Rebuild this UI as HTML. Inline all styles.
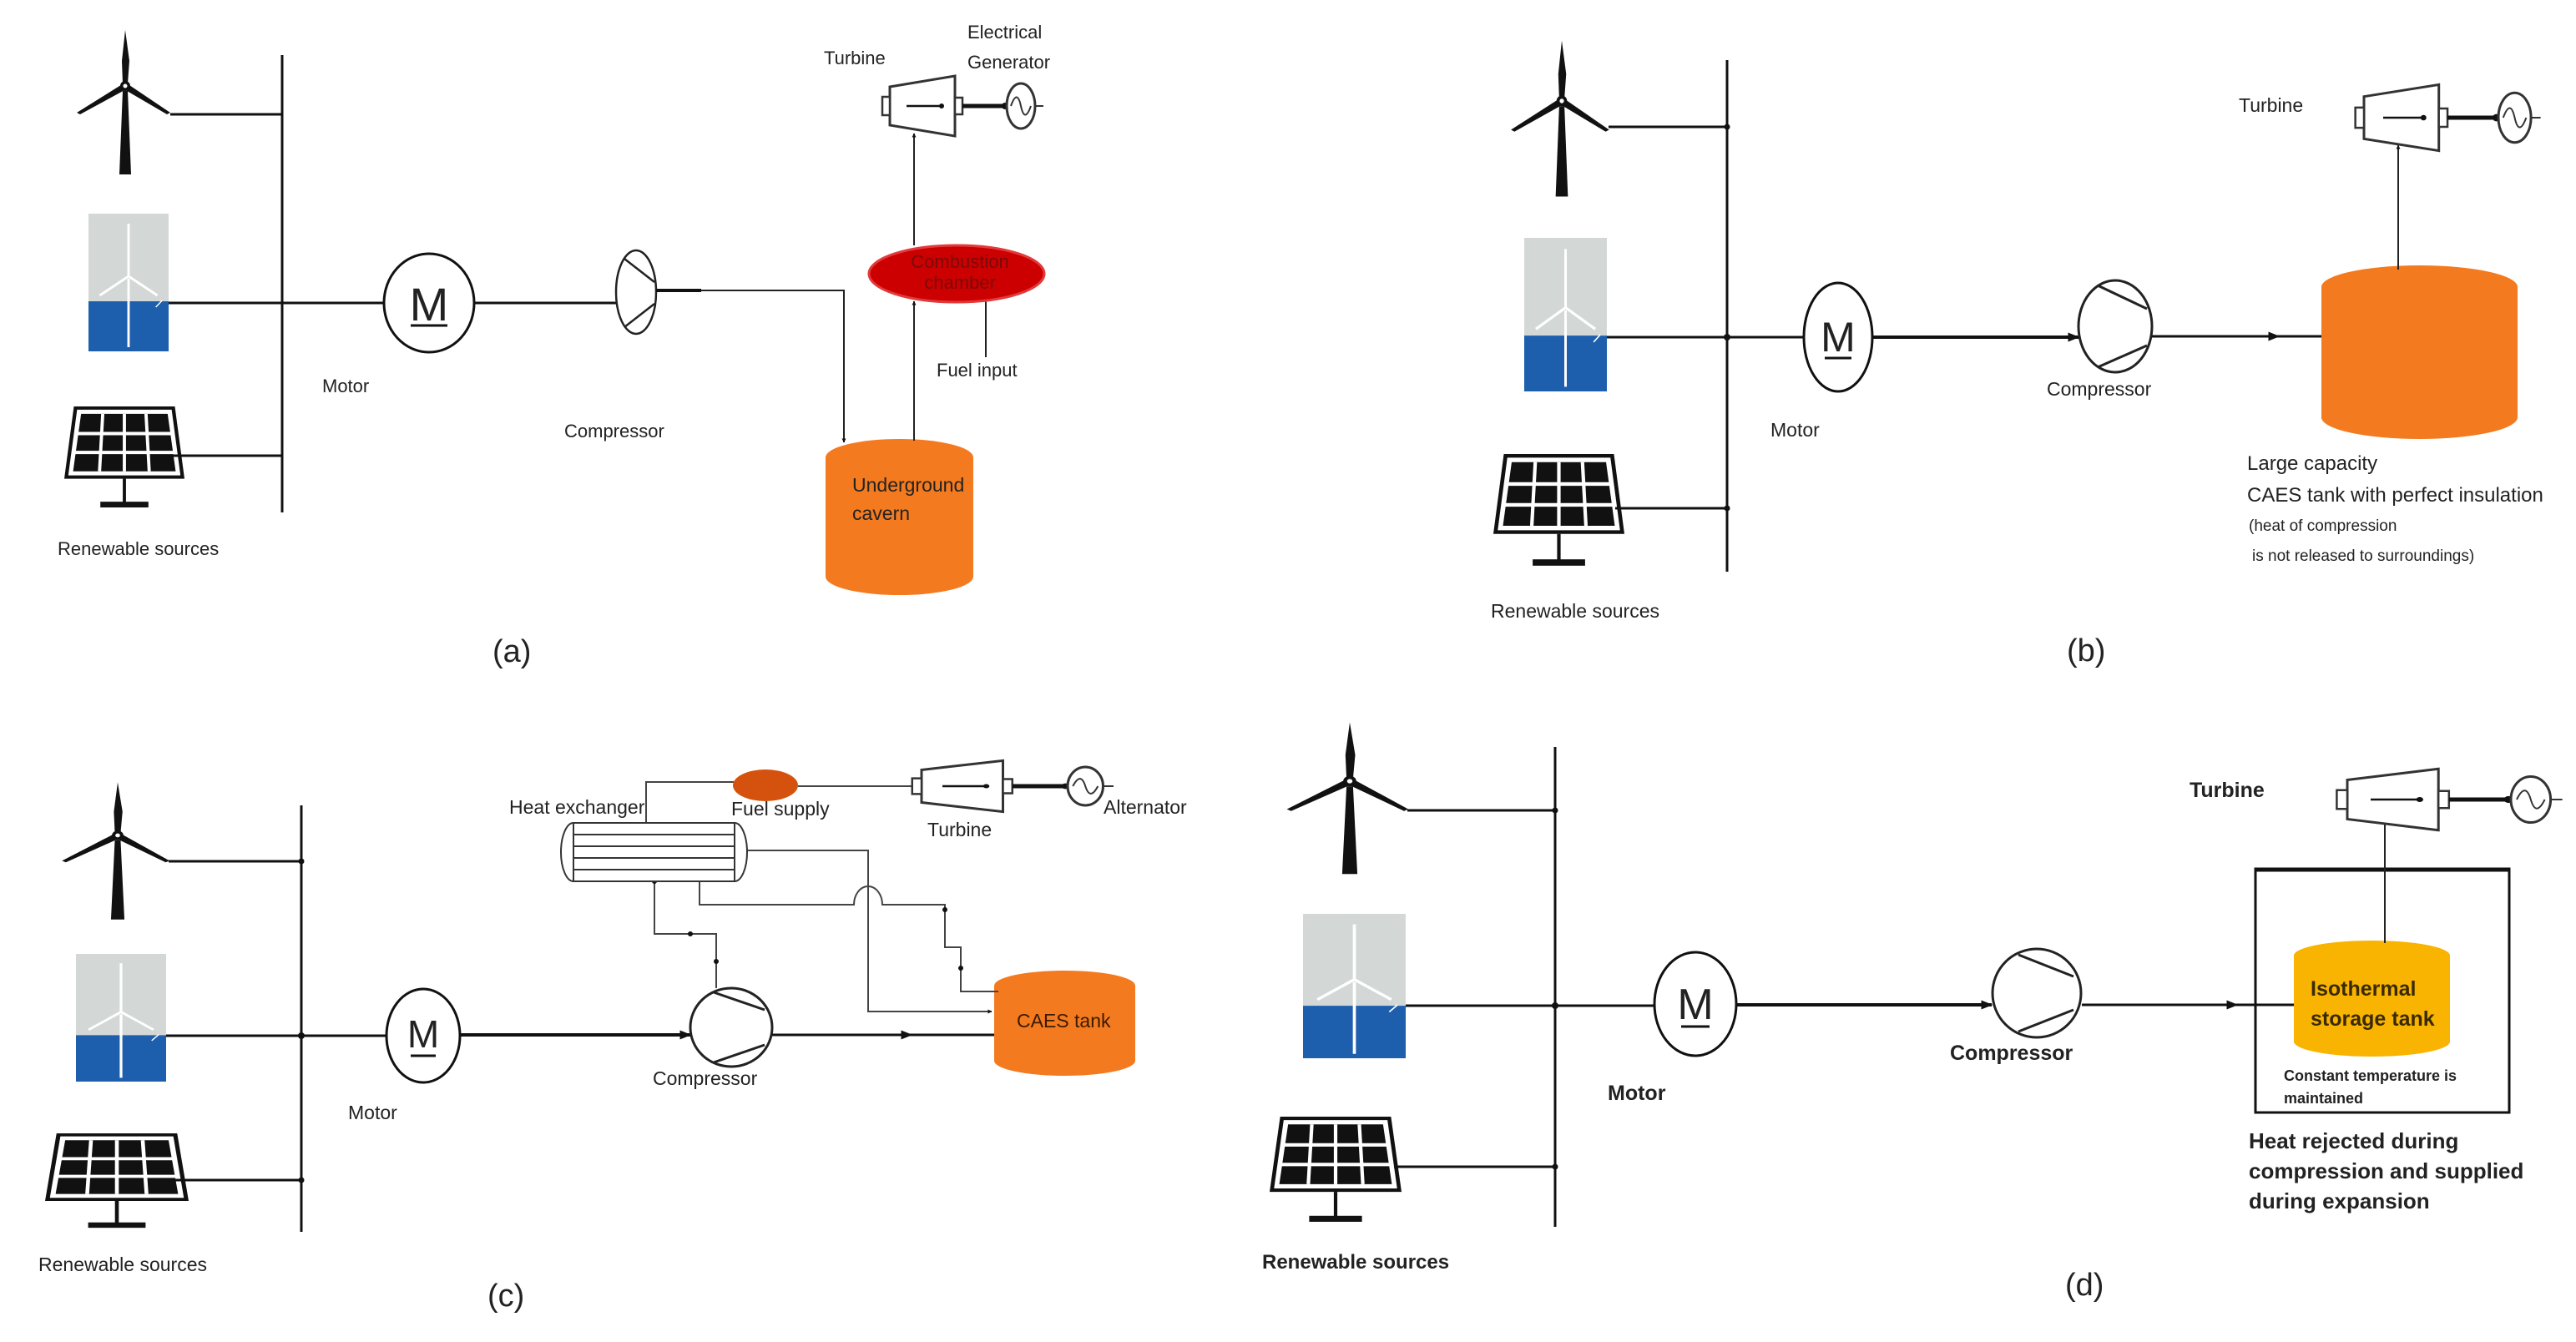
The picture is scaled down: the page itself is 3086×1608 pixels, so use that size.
<!DOCTYPE html>
<html><head><meta charset="utf-8"><style>
html,body{margin:0;padding:0;background:#fff}
svg{display:block}
text{font-family:"Liberation Sans Narrow","Liberation Sans",sans-serif;fill:#222}
</style></head><body>
<svg width="3086" height="1608" viewBox="0 0 3086 1608" xmlns="http://www.w3.org/2000/svg">
<defs>
<marker id="ar" viewBox="0 0 10 10" refX="9" refY="5" markerWidth="5" markerHeight="5" orient="auto" markerUnits="userSpaceOnUse"><path d="M0,0L10,5L0,10z" fill="#111"/></marker>
<marker id="ar2" viewBox="0 0 10 10" refX="9" refY="5" markerWidth="14" markerHeight="14" orient="auto" markerUnits="userSpaceOnUse"><path d="M0,1L10,5L0,9z" fill="#111"/></marker>
<symbol id="off" viewBox="0 0 100 165" preserveAspectRatio="none">
<rect x="0" y="0" width="100" height="105" fill="#d3d8d6"/>
<rect x="0" y="105" width="100" height="60" fill="#1d5fad"/>
<g stroke="#fff" stroke-width="3" fill="none"><line x1="50" y1="78" x2="50" y2="160"/><line x1="50" y1="75" x2="50" y2="12"/><line x1="50" y1="75" x2="14" y2="98"/><line x1="50" y1="75" x2="86" y2="98"/><line x1="92" y1="104" x2="84" y2="112" stroke-width="1.5"/></g>
</symbol>
<symbol id="sol" viewBox="0 0 150 125" preserveAspectRatio="none">
<polygon points="12,0 138,0 150,88 0,88" fill="#111"/>
<polygon points="16,4 134,4 145,84 5,84" fill="#fff"/>
<polygon points="21,9 129,9 139,79 11,79" fill="#111"/>
<g stroke="#fff" stroke-width="4"><line x1="14" y1="33" x2="136" y2="33"/><line x1="12" y1="56" x2="138" y2="56"/><line x1="48" y1="9" x2="44" y2="79"/><line x1="75" y1="9" x2="75" y2="79"/><line x1="102" y1="9" x2="106" y2="79"/></g>
<rect x="73" y="88" width="4" height="30" fill="#111"/><rect x="45" y="116" width="60" height="7" fill="#111"/>
</symbol>
<g id="wind">
<polygon points="-3,6 3,6 7,106 -7,106" fill="#111"/>
<polygon points="0,-67 5,-30 3,-3 -3,-3 -4,-30" fill="#111"/>
<polygon points="-2,-3 3,3 -54,34 -58,32" fill="#111"/>
<polygon points="2,-3 -3,3 50,34 54,32" fill="#111"/>
<circle r="6" fill="#111"/><circle r="2.5" fill="#fff"/>
</g>
<g id="turb">
<polygon points="0,-23 78,-36 78,36 0,23" fill="#fff" stroke="#333" stroke-width="3" vector-effect="non-scaling-stroke"/>
<rect x="-9" y="-11" width="9" height="22" fill="#fff" stroke="#333" stroke-width="2.5" vector-effect="non-scaling-stroke"/>
<rect x="78" y="-10" width="9" height="20" fill="#fff" stroke="#333" stroke-width="2.5" vector-effect="non-scaling-stroke"/>
<line x1="20" y1="0" x2="62" y2="0" stroke="#111" stroke-width="2.5" vector-effect="non-scaling-stroke"/>
<circle cx="62" cy="0" r="3" fill="#111"/>
<line x1="87" y1="0" x2="140" y2="0" stroke="#111" stroke-width="5" vector-effect="non-scaling-stroke"/>
<circle cx="138" cy="0" r="4" fill="#111"/>
<ellipse cx="157" cy="0" rx="17" ry="27" fill="#fff" stroke="#333" stroke-width="3" vector-effect="non-scaling-stroke"/>
<path d="M145,0 C150,-14 154,-14 157,0 C160,14 164,14 169,0" fill="none" stroke="#333" stroke-width="2" vector-effect="non-scaling-stroke"/>
<line x1="174" y1="0" x2="184" y2="0" stroke="#333" stroke-width="2" vector-effect="non-scaling-stroke"/>
</g>
</defs>

<!-- ===== Panel (a) ===== -->
<g>
<line x1="338" y1="66" x2="338" y2="614" stroke="#111" stroke-width="3"/>
<use href="#wind" transform="translate(150,103)"/>
<line x1="204" y1="137" x2="338" y2="137" stroke="#111" stroke-width="3"/>
<use href="#off" x="106" y="256" width="96" height="165"/>
<line x1="202" y1="363" x2="460" y2="363" stroke="#111" stroke-width="3"/>
<use href="#sol" x="77" y="487" width="144" height="123"/>
<line x1="205" y1="546" x2="338" y2="546" stroke="#111" stroke-width="3"/>
<ellipse cx="514" cy="363" rx="54" ry="59" fill="#fff" stroke="#111" stroke-width="3"/>
<text x="514" y="384" font-size="56" text-anchor="middle" style="font-family:'Liberation Sans',sans-serif">M</text>
<line x1="492" y1="390" x2="536" y2="390" stroke="#111" stroke-width="3"/>
<line x1="568" y1="363" x2="740" y2="363" stroke="#111" stroke-width="3"/>
<ellipse cx="762" cy="350" rx="24" ry="50" fill="#fff" stroke="#222" stroke-width="2.5"/>
<line x1="748" y1="310" x2="784" y2="338" stroke="#222" stroke-width="2.5"/>
<line x1="748" y1="392" x2="784" y2="364" stroke="#222" stroke-width="2.5"/>
<line x1="786" y1="348" x2="840" y2="348" stroke="#111" stroke-width="4"/>
<polyline points="840,348 1011,348 1011,530" fill="none" stroke="#222" stroke-width="2" marker-end="url(#ar)"/>
<g fill="#f47a1f"><rect x="989" y="548" width="177" height="143"/><ellipse cx="1077.5" cy="548" rx="88.5" ry="22"/><ellipse cx="1077.5" cy="691" rx="88.5" ry="22"/></g>
<text x="1021" y="589" font-size="23">Underground</text>
<text x="1021" y="623" font-size="23">cavern</text>
<line x1="1095" y1="528" x2="1095" y2="361" stroke="#222" stroke-width="2" marker-end="url(#ar)"/>
<line x1="1181" y1="428" x2="1181" y2="360" stroke="#222" stroke-width="2"/>
<ellipse cx="1146" cy="328" rx="105" ry="34" fill="#cc0000" stroke="#e23a3a" stroke-width="3"/>
<text x="1150" y="321" font-size="22" text-anchor="middle" style="fill:#7a0a0a">Combustion</text>
<text x="1150" y="346" font-size="22" text-anchor="middle" style="fill:#7a0a0a">chamber</text>
<line x1="1095" y1="294" x2="1095" y2="160" stroke="#222" stroke-width="2" marker-end="url(#ar)"/>
<use href="#turb" transform="translate(1066,127)"/>
<text x="1122" y="451" font-size="22">Fuel input</text>
<text x="987" y="77" font-size="22">Turbine</text>
<text x="1159" y="46" font-size="22">Electrical</text>
<text x="1159" y="82" font-size="22">Generator</text>
<text x="386" y="470" font-size="22">Motor</text>
<text x="676" y="524" font-size="22">Compressor</text>
<text x="69" y="665" font-size="22">Renewable sources</text>
<text x="590" y="793" font-size="38" style="font-family:'Liberation Sans',sans-serif">(a)</text>
</g>

<!-- ===== Panel (b) ===== -->
<g>
<line x1="2069" y1="72" x2="2069" y2="685" stroke="#111" stroke-width="3"/>
<use href="#wind" transform="translate(1871,121) scale(1.05,1.08)"/>
<line x1="1927" y1="152" x2="2069" y2="152" stroke="#111" stroke-width="3"/>
<use href="#off" x="1826" y="285" width="99" height="184"/>
<line x1="1925" y1="404" x2="2161" y2="404" stroke="#111" stroke-width="3"/>
<use href="#sol" x="1789" y="544" width="157" height="136"/>
<line x1="1935" y1="609" x2="2069" y2="609" stroke="#111" stroke-width="3"/>
<circle cx="2069" cy="404" r="4" fill="#111"/><circle cx="2069" cy="152" r="3.5" fill="#111"/><circle cx="2069" cy="609" r="3.5" fill="#111"/>
<ellipse cx="2202" cy="404" rx="41" ry="65" fill="#fff" stroke="#111" stroke-width="3"/>
<text x="2202" y="421" font-size="50" text-anchor="middle" style="font-family:'Liberation Sans',sans-serif">M</text>
<line x1="2186" y1="429" x2="2218" y2="429" stroke="#111" stroke-width="3"/>
<line x1="2243" y1="404" x2="2490" y2="404" stroke="#111" stroke-width="4" marker-end="url(#ar2)"/>
<ellipse cx="2534" cy="391" rx="44" ry="55" fill="#fff" stroke="#222" stroke-width="3"/>
<line x1="2513" y1="342" x2="2572" y2="370" stroke="#222" stroke-width="3"/>
<line x1="2513" y1="440" x2="2572" y2="414" stroke="#222" stroke-width="3"/>
<line x1="2578" y1="403" x2="2730" y2="403" stroke="#111" stroke-width="3" marker-end="url(#ar2)"/>
<line x1="2725" y1="403" x2="2781" y2="403" stroke="#111" stroke-width="3"/>
<g fill="#f47a1f"><rect x="2781" y="344" width="235" height="156"/><ellipse cx="2898.5" cy="344" rx="117.5" ry="26"/><ellipse cx="2898.5" cy="500" rx="117.5" ry="26"/></g>
<line x1="2873" y1="323" x2="2873" y2="174" stroke="#222" stroke-width="2" marker-end="url(#ar)"/>
<use href="#turb" transform="translate(2832,141) scale(1.15,1.1)"/>
<text x="2682" y="134" font-size="23">Turbine</text>
<text x="2452" y="474" font-size="23">Compressor</text>
<text x="2121" y="523" font-size="23">Motor</text>
<text x="1786" y="740" font-size="23">Renewable sources</text>
<text x="2692" y="563" font-size="24">Large capacity</text>
<text x="2692" y="601" font-size="24">CAES tank with perfect insulation</text>
<text x="2694" y="636" font-size="19">(heat of compression</text>
<text x="2698" y="672" font-size="19">is not released to surroundings)</text>
<text x="2476" y="792" font-size="38" style="font-family:'Liberation Sans',sans-serif">(b)</text>
</g>

<!-- ===== Panel (c) ===== -->
<g>
<line x1="361" y1="965" x2="361" y2="1476" stroke="#111" stroke-width="3"/>
<use href="#wind" transform="translate(141,1001) scale(1.15,0.95)"/>
<line x1="202" y1="1032" x2="361" y2="1032" stroke="#111" stroke-width="3"/>
<use href="#off" x="91" y="1143" width="108" height="153"/>
<line x1="199" y1="1241" x2="463" y2="1241" stroke="#111" stroke-width="3"/>
<use href="#sol" x="54" y="1358" width="172" height="115"/>
<line x1="205" y1="1414" x2="361" y2="1414" stroke="#111" stroke-width="3"/>
<circle cx="361" cy="1241" r="4" fill="#111"/><circle cx="361" cy="1032" r="3.5" fill="#111"/><circle cx="361" cy="1414" r="3.5" fill="#111"/>
<ellipse cx="507" cy="1241" rx="44" ry="56" fill="#fff" stroke="#111" stroke-width="3"/>
<text x="507" y="1255" font-size="46" text-anchor="middle" style="font-family:'Liberation Sans',sans-serif">M</text>
<line x1="492" y1="1265" x2="522" y2="1265" stroke="#111" stroke-width="3"/>
<line x1="551" y1="1240" x2="827" y2="1240" stroke="#111" stroke-width="4" marker-end="url(#ar2)"/>
<ellipse cx="876" cy="1231" rx="49" ry="47" fill="#fff" stroke="#222" stroke-width="3"/>
<line x1="855" y1="1189" x2="916" y2="1210" stroke="#222" stroke-width="3"/>
<line x1="855" y1="1273" x2="916" y2="1252" stroke="#222" stroke-width="3"/>
<line x1="925" y1="1240" x2="1092" y2="1240" stroke="#111" stroke-width="3" marker-end="url(#ar2)"/>
<line x1="1088" y1="1240" x2="1191" y2="1240" stroke="#111" stroke-width="3"/>
<g fill="#f47a1f"><rect x="1191" y="1181" width="169" height="90"/><ellipse cx="1275.5" cy="1181" rx="84.5" ry="18"/><ellipse cx="1275.5" cy="1271" rx="84.5" ry="18"/></g>
<text x="1218" y="1231" font-size="23" style="fill:#3a1a00">CAES tank</text>
<g fill="none" stroke="#444" stroke-width="2">
<polyline points="774,986 774,937 879,937"/>
<polyline points="890,1019 1040,1019 1040,1212 1184,1212"/>
<path d="M838,1056 L838,1084 L1023,1084 A17,22 0 0 1 1057,1084 L1132,1084 L1132,1135 L1151,1135 L1151,1188 L1196,1188"/>
<polyline points="784,1056 784,1119 858,1119 858,1184"/>
</g>
<line x1="1150" y1="1212" x2="1188" y2="1212" stroke="#444" stroke-width="2" marker-end="url(#ar)"/>
<circle cx="784" cy="1056" r="3" fill="#111"/><circle cx="827" cy="1119" r="3" fill="#111"/><circle cx="858" cy="1152" r="3" fill="#111"/><circle cx="1132" cy="1090" r="3" fill="#111"/><circle cx="1151" cy="1160" r="3" fill="#111"/>
<path d="M687,986 L880,986 A15,35 0 0 1 880,1056 L687,1056 A15,35 0 0 1 687,986 Z" fill="#fff" stroke="#333" stroke-width="2"/>
<line x1="687" y1="986" x2="687" y2="1056" stroke="#333" stroke-width="2"/><line x1="880" y1="986" x2="880" y2="1056" stroke="#333" stroke-width="2"/>
<g stroke="#333" stroke-width="2"><line x1="687" y1="1000" x2="880" y2="1000"/><line x1="687" y1="1014" x2="880" y2="1014"/><line x1="687" y1="1028" x2="880" y2="1028"/><line x1="687" y1="1042" x2="880" y2="1042"/></g>
<ellipse cx="917" cy="941" rx="39" ry="19" fill="#d5520e"/>
<line x1="956" y1="942" x2="1097" y2="942" stroke="#444" stroke-width="2" marker-end="url(#ar)"/>
<use href="#turb" transform="translate(1104,942) scale(1.25,0.85)"/>
<text x="610" y="975" font-size="23">Heat exchanger</text>
<text x="876" y="977" font-size="23">Fuel supply</text>
<text x="1111" y="1002" font-size="23">Turbine</text>
<text x="1322" y="975" font-size="23">Alternator</text>
<text x="782" y="1300" font-size="23">Compressor</text>
<text x="417" y="1341" font-size="23">Motor</text>
<text x="46" y="1523" font-size="23">Renewable sources</text>
<text x="584" y="1565" font-size="38" style="font-family:'Liberation Sans',sans-serif">(c)</text>
</g>

<!-- ===== Panel (d) ===== -->
<g>
<line x1="1863" y1="895" x2="1863" y2="1470" stroke="#111" stroke-width="3"/>
<use href="#wind" transform="translate(1617,936) scale(1.3,1.05)"/>
<line x1="1686" y1="971" x2="1863" y2="971" stroke="#111" stroke-width="3"/>
<use href="#off" x="1561" y="1095" width="123" height="173"/>
<line x1="1684" y1="1205" x2="1982" y2="1205" stroke="#111" stroke-width="3"/>
<use href="#sol" x="1521" y="1338" width="158" height="128"/>
<line x1="1670" y1="1398" x2="1863" y2="1398" stroke="#111" stroke-width="3"/>
<circle cx="1863" cy="1205" r="4" fill="#111"/><circle cx="1863" cy="971" r="3.5" fill="#111"/><circle cx="1863" cy="1398" r="3.5" fill="#111"/>
<ellipse cx="2031" cy="1203" rx="49" ry="62" fill="#fff" stroke="#111" stroke-width="3"/>
<text x="2031" y="1221" font-size="52" text-anchor="middle" style="font-family:'Liberation Sans',sans-serif">M</text>
<line x1="2014" y1="1230" x2="2048" y2="1230" stroke="#111" stroke-width="3"/>
<line x1="2080" y1="1204" x2="2386" y2="1204" stroke="#111" stroke-width="4" marker-end="url(#ar2)"/>
<ellipse cx="2440" cy="1190" rx="53" ry="53" fill="#fff" stroke="#222" stroke-width="3"/>
<line x1="2418" y1="1144" x2="2484" y2="1170" stroke="#222" stroke-width="3"/>
<line x1="2418" y1="1236" x2="2484" y2="1210" stroke="#222" stroke-width="3"/>
<line x1="2494" y1="1204" x2="2680" y2="1204" stroke="#111" stroke-width="3" marker-end="url(#ar2)"/>
<line x1="2676" y1="1204" x2="2748" y2="1204" stroke="#111" stroke-width="3"/>
<rect x="2702" y="1041" width="304" height="292" fill="none" stroke="#111" stroke-width="3"/>
<line x1="2702" y1="1042" x2="3006" y2="1042" stroke="#111" stroke-width="5"/>
<g fill="#f8b400"><rect x="2748" y="1145" width="187" height="103"/><ellipse cx="2841.5" cy="1145" rx="93.5" ry="18"/><ellipse cx="2841.5" cy="1248" rx="93.5" ry="18"/></g>
<text x="2768" y="1193" font-size="25" font-weight="bold" style="fill:#3a2a00">Isothermal</text>
<text x="2768" y="1229" font-size="25" font-weight="bold" style="fill:#3a2a00">storage tank</text>
<line x1="2857" y1="1130" x2="2857" y2="983" stroke="#222" stroke-width="2" marker-end="url(#ar)"/>
<use href="#turb" transform="translate(2812,958) scale(1.4,1.02)"/>
<text x="2623" y="955" font-size="25" font-weight="bold">Turbine</text>
<text x="2736" y="1295" font-size="18" font-weight="bold">Constant temperature is</text>
<text x="2736" y="1322" font-size="18" font-weight="bold">maintained</text>
<text x="2694" y="1376" font-size="26" font-weight="bold">Heat rejected during</text>
<text x="2694" y="1412" font-size="26" font-weight="bold">compression and supplied</text>
<text x="2694" y="1448" font-size="26" font-weight="bold">during expansion</text>
<text x="2336" y="1270" font-size="25" font-weight="bold">Compressor</text>
<text x="1926" y="1318" font-size="25" font-weight="bold">Motor</text>
<text x="1512" y="1520" font-size="24" font-weight="bold">Renewable sources</text>
<text x="2474" y="1552" font-size="38" style="font-family:'Liberation Sans',sans-serif">(d)</text>
</g>
</svg>
</body></html>
